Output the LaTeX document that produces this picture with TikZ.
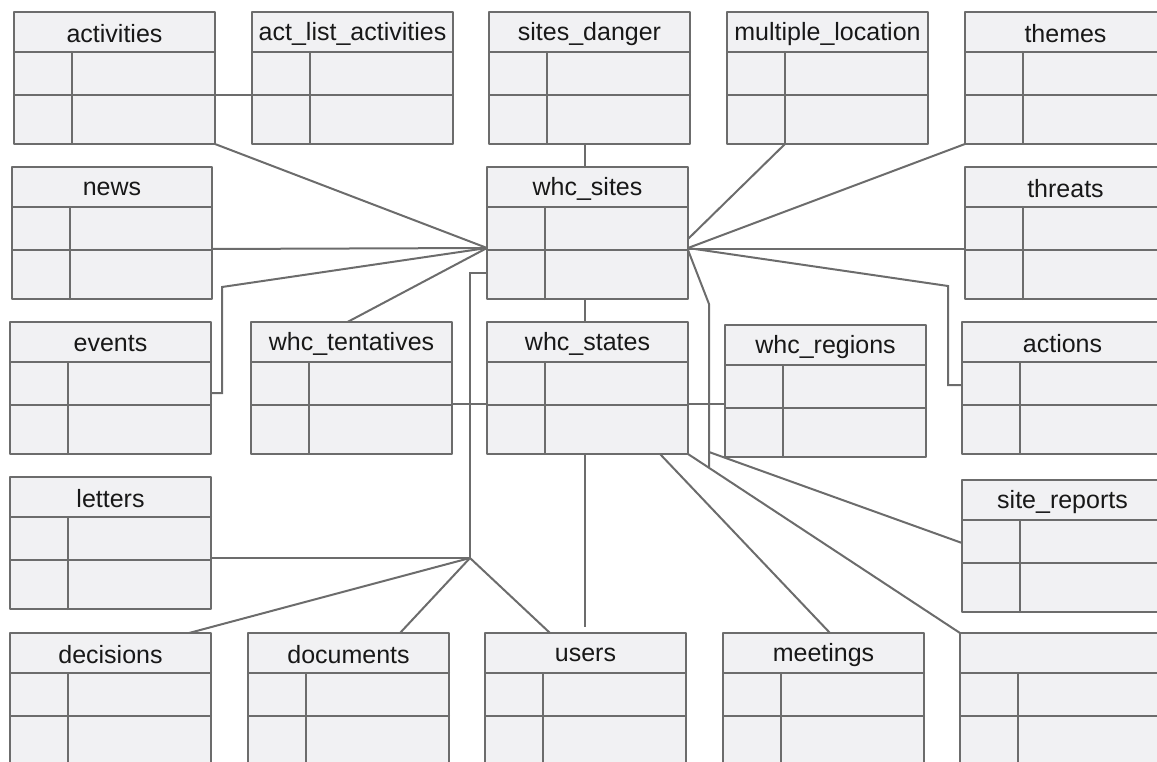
\documentclass[tikz,border=0pt]{standalone}
\usepackage{fontspec}
\setmainfont{Liberation Sans}
\usepackage{tikz}
\usetikzlibrary{backgrounds}
\definecolor{tblgray}{RGB}{108,108,108}
\definecolor{tblfill}{RGB}{241,241,243}
\definecolor{tbltext}{RGB}{24,24,24}

% one table: name, top left corner, title, width
\newcommand{\dbtable}[4]{%
  \node[tblbox, minimum width=#4, anchor=north west] (#1) at (#2) {};
  \draw[tblline] ([yshift=-40pt]#1.north west) -- ([yshift=-40pt]#1.north east);
  \draw[tblline] ([yshift=-83pt]#1.north west) -- ([yshift=-83pt]#1.north east);
  \draw[tblline] ([xshift=58pt,yshift=-40pt]#1.north west) -- ([xshift=58pt]#1.south west);
  \node[tbltitle] (#1-title) at ([yshift=-22pt]#1.north) {#3};
}

\begin{document}
\begin{tikzpicture}
    [line cap=round,line join=round,x=1pt,y=-1pt,
     tblbox/.style={rectangle,draw=tblgray,fill=tblfill,line width=2pt,minimum height=132pt,inner sep=0pt,outer sep=0pt},
     tblline/.style={draw=tblgray,line width=2pt},
     tbltitle/.style={text=tbltext,font=\fontsize{25}{29}\selectfont,inner sep=0pt},
     link/.style={draw=tblgray,line width=2pt}]
%frame of the picture
\path[use as bounding box,clip] (0,0) rectangle (1157,762);

%first row
\dbtable{activities}{14,12}{activities}{201pt}
\dbtable{actlist}{252,12}{act\_list\_activities}{201pt}
\dbtable{danger}{489,12}{sites\_danger}{201pt}
\dbtable{multiloc}{727,12}{multiple\_location}{201pt}
\dbtable{themes}{965,12}{themes}{201pt}
%second row
\dbtable{news}{12,167}{news}{200pt}
\dbtable{sites}{487,167}{whc\_sites}{201pt}
\dbtable{threats}{965,167}{threats}{201pt}
%third row
\dbtable{events}{10,322}{events}{201pt}
\dbtable{tentatives}{251,322}{whc\_tentatives}{201pt}
\dbtable{states}{487,322}{whc\_states}{201pt}
\dbtable{regions}{725,325}{whc\_regions}{201pt}
\dbtable{actions}{962,322}{actions}{201pt}
%fourth row
\dbtable{letters}{10,477}{letters}{201pt}
\dbtable{reports}{962,480}{site\_reports}{201pt}
%last row, cut by the frame
\dbtable{decisions}{10,633}{decisions}{201pt}
\dbtable{documents}{248,633}{documents}{201pt}
\dbtable{users}{485,633}{users}{201pt}
\dbtable{meetings}{723,633}{meetings}{201pt}
\dbtable{blank}{960,633}{}{201pt}

%links, behind the tables
\begin{pgfonlayer}{background}
  \coordinate (hubL) at ([yshift=-81pt]sites.north west);
  \coordinate (hubR) at ([yshift=-81pt]sites.north east);
  \coordinate (trunk) at ([xshift=-17pt,yshift=-391pt]sites.north west);
  \draw[link] ([yshift=-83pt]activities.north east) -- ([yshift=-83pt]actlist.north west);
  \draw[link] (activities.south east) -- (hubL);
  \draw[link] ([yshift=-82pt]news.north east) -- (hubL);
  \draw[link] ([yshift=-71pt]events.north east) -- ++(11,0) -- ++(0,-106) -- (hubL);
  \draw[link] ([xshift=-4pt]tentatives.north) -- (hubL);
  \draw[link] ([xshift=-3pt]sites.north) -- ([xshift=-3pt]sites.north |- danger.south);
  \draw[link] ([xshift=-3pt]sites.south) -- ([xshift=-3pt]sites.south |- states.north);
  \draw[link] ([xshift=58pt]multiloc.south west) -- ([yshift=-72pt]sites.north east);
  \draw[link] (themes.south west) -- (hubR);
  \draw[link] ([yshift=-82pt]threats.north west) -- ([yshift=-82pt]sites.north east);
  \draw[link] (hubR) -- ([xshift=-14pt,yshift=36pt]actions.north west) |- ([yshift=-63pt]actions.north west);
  \draw[link] ([yshift=-83pt]sites.north east) -- ++(21,54) -- ++(0,163);
  \draw[link] ([xshift=21pt,yshift=-285pt]sites.north east) -- ([yshift=-63pt]reports.north west);
  \draw[link] (states.south east) -- (blank.north west);
  \draw[link] ([xshift=-28pt]states.south east) -- ([xshift=107pt]meetings.north west);
  \draw[link] ([xshift=-3pt]states.south) -- ([xshift=-3pt,yshift=6pt]states.south |- users.north);
  \draw[link] ([yshift=-106pt]sites.north west) -- ++(-17,0) -- (trunk);
  \draw[link] (trunk) -- ([yshift=-81pt]letters.north east);
  \draw[link] (trunk) -- ([xshift=179pt]decisions.north west);
  \draw[link] (trunk) -- ([xshift=152pt]documents.north west);
  \draw[link] (trunk) -- ([xshift=65pt]users.north west);
  \draw[link] ([yshift=-82pt]tentatives.north east) -- ([yshift=-79pt]regions.north west);
\end{pgfonlayer}

\end{tikzpicture}
\end{document}
